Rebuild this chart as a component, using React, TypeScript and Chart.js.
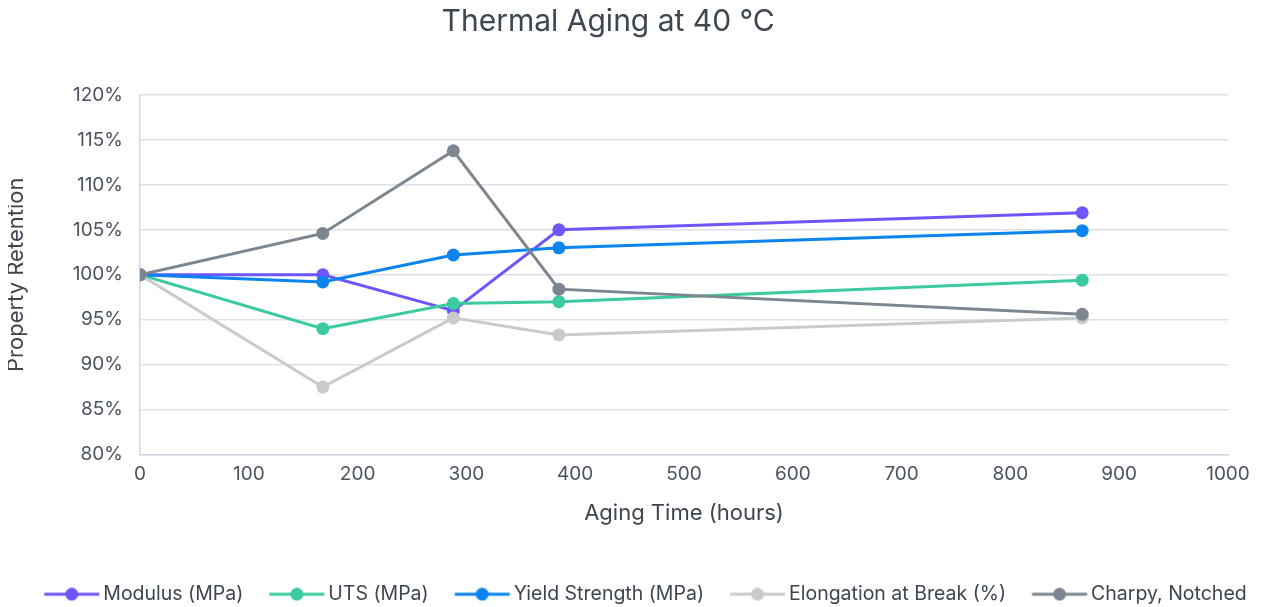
import React, { useEffect, useRef } from "react";
import { Chart, registerables } from "chart.js";

Chart.register(...registerables);

const hours = [0, 168, 288, 385, 866];
const modulus = [100, 100, 96.0, 105.0, 106.9];
const uts = [100, 94.0, 96.8, 97.0, 99.4];
const yieldStrength = [100, 99.2, 102.2, 103.0, 104.9];
const elongation = [100, 87.5, 95.2, 93.3, 95.2];
const charpy = [100, 104.6, 113.8, 98.4, 95.6];

const seriesNames = [
  "Modulus (MPa)",
  "UTS (MPa)",
  "Yield Strength (MPa)",
  "Elongation at Break (%)",
  "Charpy, Notched",
];
const seriesColors = ["#6E57FA", "#3CCBA0", "#0B84EE", "#C8CBCD", "#7C8691"];
const seriesValues = [modulus, uts, yieldStrength, elongation, charpy];

const FONT = "Inter, sans-serif";
const LEGEND_FONT = 19.5;
const LEGEND_PAD = 2;
const LEAD = 24; // blank before each legend line
const BOX_W = LEAD + 59 - LEGEND_FONT / 2;
const ICON_W = 90;

function legendIcon(color: string): HTMLCanvasElement {
  const c = document.createElement("canvas");
  c.width = ICON_W;
  c.height = 14;
  const ctx = c.getContext("2d")!;
  const off = ICON_W / 2 - BOX_W / 2;
  const x0 = LEAD + off;
  ctx.strokeStyle = color;
  ctx.lineWidth = 3;
  ctx.beginPath();
  ctx.moveTo(x0, 7);
  ctx.lineTo(x0 + 55, 7);
  ctx.stroke();
  ctx.fillStyle = color;
  ctx.beginPath();
  ctx.arc(x0 + 27.5, 7, 6.5, 0, Math.PI * 2);
  ctx.fill();
  return c;
}

export default function App() {
  const ref = useRef<HTMLCanvasElement>(null);
  useEffect(() => {
    if (!ref.current) return;
    const datasets = seriesNames.map((name, i) => ({
      label: name,
      data: hours.map((h, j) => ({ x: h, y: seriesValues[i][j] })),
      yAxisID: "y",
      xAxisID: "x",
      borderColor: seriesColors[i],
      backgroundColor: seriesColors[i],
      pointBackgroundColor: seriesColors[i],
      pointBorderColor: seriesColors[i],
      borderWidth: 3,
      pointRadius: 6.5,
      pointBorderWidth: 0,
      pointStyle: "circle" as const,
      order: 5 - i,
      tension: 0,
    }));
    const chart = new Chart(ref.current, {
      type: "line",
      data: { datasets },
      options: {
        animation: false,
        responsive: true,
        maintainAspectRatio: false,
        layout: { padding: { left: 0, right: 0, top: 0, bottom: -7 } },
        plugins: {
          title: {
            display: true,
            text: "Thermal Aging at 40 °C" + "\u00A0".repeat(6),
            color: "#3D4752",
            font: { family: FONT, size: 30, weight: "normal", lineHeight: 1 },
            padding: { top: -1, bottom: 58 },
          },
          legend: {
            position: "bottom",
            labels: {
              usePointStyle: true,
              pointStyleWidth: BOX_W,
              padding: LEGEND_PAD,
              color: "#3D4650",
              font: { family: FONT, size: LEGEND_FONT },
              generateLabels: (ch: any) =>
                ch.data.datasets.map((d: any, i: number) => ({
                  text: d.label,
                  fillStyle: seriesColors[i],
                  strokeStyle: seriesColors[i],
                  lineWidth: 0,
                  pointStyle: legendIcon(seriesColors[i]),
                  hidden: false,
                  datasetIndex: i,
                  fontColor: "#3D4650",
                })),
            },
          },
          tooltip: { enabled: false },
        },
        scales: {
          x: {
            type: "linear",
            min: 0,
            max: 1000,
            ticks: {
              stepSize: 100,
              padding: 8,
              color: "#4A5360",
              font: { family: FONT, size: 19 },
              callback: (v: any) => String(v),
            },
            grid: { display: false, drawTicks: false },
            border: { display: true, color: "#CFD6E2", width: 1.5 },
            title: {
              display: true,
              text: "Aging Time (hours)",
              color: "#3D4650",
              font: { family: FONT, size: 22, lineHeight: 1.2 },
              padding: { top: 0, bottom: 56 },
            },
            afterFit: (s: any) => {
              s.height = 128;
            },
          },
          y: {
            position: "left",
            min: 80,
            max: 120,
            ticks: {
              stepSize: 5,
              padding: 17,
              color: "#4A5360",
              font: { family: FONT, size: 19 },
              callback: (v: any) => v + "%",
            },
            grid: { color: "#DDE1E7", lineWidth: 1.5, drawTicks: false },
            border: { display: true, color: "#CFD6E2", width: 1.5 },
            title: {
              display: true,
              text: "Property Retention",
              color: "#3D4650",
              font: { family: FONT, size: 22, lineHeight: 0.8 },
              padding: { top: 0, bottom: 0 },
            },
            afterFit: (s: any) => {
              s.width = 132;
            },
          },
          yRight: {
            position: "right",
            min: 80,
            max: 120,
            ticks: { display: false },
            grid: { display: false, drawTicks: false },
            border: { display: false },
            afterFit: (s: any) => {
              s.width = 31;
            },
          },
        },
      },
    });
    return () => chart.destroy();
  }, []);
  return (
    <div style={{ position: "fixed", left: 8, top: 8, width: 1251, height: 599 }}>
      <canvas ref={ref} />
    </div>
  );
}
